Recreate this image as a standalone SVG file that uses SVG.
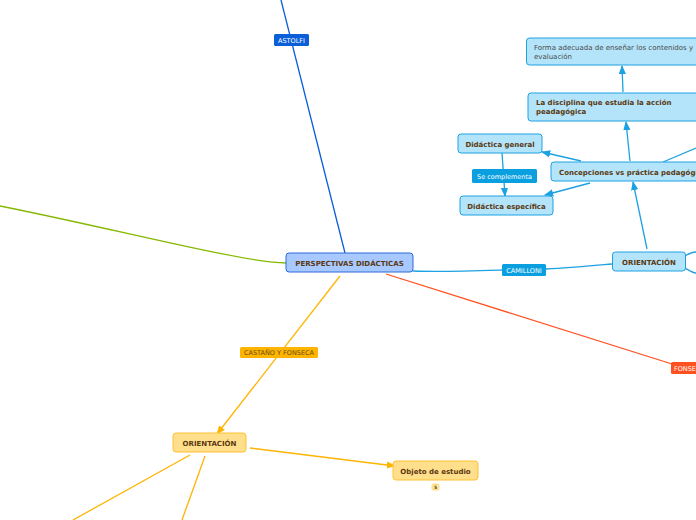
<svg xmlns="http://www.w3.org/2000/svg" width="696" height="520" viewBox="0 0 696 520">
<defs>
<style>
text{font-family:"DejaVu Sans",Verdana,sans-serif;font-size:7px}
.b{font-weight:bold;fill:#5a3810}
.n{fill:#4a4a4a}
.lbl{fill:#fff;font-size:6.5px}
.lbd{fill:#6a4a10;font-size:6.5px}
.blue{fill:#b4e4fa;stroke:#1ca2e2;stroke-width:1}
.orange{fill:#ffde8c;stroke:#ffc234;stroke-width:1}
</style>
<marker id="ab" viewBox="0 0 10 10" refX="9" refY="5" markerWidth="7" markerHeight="7" orient="auto"><path d="M0,1 L10,5 L0,9 z" fill="#1ca2e2"/></marker>
<marker id="ao" viewBox="0 0 10 10" refX="9" refY="5" markerWidth="7" markerHeight="7" orient="auto"><path d="M0,1 L10,5 L0,9 z" fill="#ffb400"/></marker>
</defs>
<rect width="696" height="520" fill="#fff"/>
<g id="connectors" fill="none">
<path d="M345,253 L281,0" stroke="#0a5fd8" stroke-width="1.3"/>
<path d="M0,206 C120,230 240,262 286,263" stroke="#86b800" stroke-width="1.3"/>
<path d="M413,271 C440,272 470,271 502,270 M546,269 C570,268 590,266 612,264" stroke="#1ca2e2" stroke-width="1.3"/>
<path d="M386,274 L672,364" stroke="#ff5020" stroke-width="1.3"/>
<path d="M340,276 L217,434" stroke="#ffb400" stroke-width="1.3" marker-end="url(#ao)"/>
<path d="M250,448 L395,466" stroke="#ffb400" stroke-width="1.3" marker-end="url(#ao)"/>
<path d="M190,455 L73,520" stroke="#ffb400" stroke-width="1.3"/>
<path d="M205,456 L182,520" stroke="#ffb400" stroke-width="1.3"/>
<path d="M685,256 C690,253 693,252 696,252 M685,268 C690,271 693,273 696,273" stroke="#1ca2e2" stroke-width="1.3"/>
<path d="M647,249 L633,182" stroke="#1ca2e2" stroke-width="1.3" marker-end="url(#ab)"/>
<path d="M663,162 L696,148" stroke="#1ca2e2" stroke-width="1.3"/>
<path d="M630,161 L626,122" stroke="#1ca2e2" stroke-width="1.3" marker-end="url(#ab)"/>
<path d="M581,161 L542,152" stroke="#1ca2e2" stroke-width="1.3" marker-end="url(#ab)"/>
<path d="M590,183 L545,195" stroke="#1ca2e2" stroke-width="1.3" marker-end="url(#ab)"/>
<path d="M623,92 L622,66" stroke="#1ca2e2" stroke-width="1.3" marker-end="url(#ab)"/>
<path d="M502,153 L505,196" stroke="#1ca2e2" stroke-width="1.3" marker-end="url(#ab)"/>
</g>
<g id="label-astolfi"><rect x="274" y="34" width="35" height="12" rx="1.5" fill="#0a5fd8"/><text x="291.5" y="42.5" text-anchor="middle" class="lbl">ASTOLFI</text></g>
<g id="label-camilloni"><rect x="502" y="264" width="44" height="12" rx="1.5" fill="#0aa0e0"/><text x="524" y="272.5" text-anchor="middle" class="lbl">CAMILLONI</text></g>
<g id="label-fonseca"><rect x="671" y="362" width="30" height="12" rx="1.5" fill="#ff5020"/><text x="674" y="370.5" class="lbl">FONSECA</text></g>
<g id="label-castano"><rect x="240" y="347" width="78" height="11" rx="1.5" fill="#ffb400"/><text x="279" y="355" text-anchor="middle" class="lbd">CASTAÑO Y FONSECA</text></g>
<g id="label-complementa"><rect x="472" y="169" width="65" height="14" rx="1.5" fill="#0aa0e0"/><text x="504.5" y="178.5" text-anchor="middle" class="lbl">Se complementa</text></g>
<g id="node-central"><rect x="286" y="253" width="127" height="19" rx="3" fill="#a8c9ff" stroke="#2a6ad8" stroke-width="1"/><text x="349.5" y="265.5" text-anchor="middle" class="b">PERSPECTIVAS DIDÁCTICAS</text></g>
<g id="node-orientacion-r"><rect x="612.5" y="252" width="73" height="19" rx="3" class="blue"/><text x="649" y="264.5" text-anchor="middle" class="b">ORIENTACIÓN</text></g>
<g id="node-concepciones"><rect x="551" y="162" width="160" height="19" rx="3" class="blue"/><text x="559" y="174.5" class="b">Concepciones vs práctica pedagógica</text></g>
<g id="node-general"><rect x="458" y="134" width="84" height="19" rx="3" class="blue"/><text x="500" y="146.5" text-anchor="middle" class="b">Didáctica general</text></g>
<g id="node-especifica"><rect x="460" y="196" width="93" height="19" rx="3" class="blue"/><text x="506.5" y="208.5" text-anchor="middle" class="b">Didáctica específica</text></g>
<g id="node-disciplina"><rect x="528" y="93" width="180" height="28" rx="3" class="blue"/><text x="536" y="105" class="b">La disciplina que estudia la acción</text><text x="536" y="114" class="b">peadagógica</text></g>
<g id="node-forma"><rect x="526.5" y="38" width="180" height="27" rx="3" class="blue"/><text x="534" y="49.5" class="n">Forma adecuada de enseñar los contenidos y</text><text x="534" y="58.5" class="n">evaluación</text></g>
<g id="node-orientacion-b"><rect x="173" y="433" width="73" height="19" rx="3" class="orange"/><text x="209.5" y="445.5" text-anchor="middle" class="b">ORIENTACIÓN</text></g>
<g id="node-objeto"><rect x="393" y="461" width="85" height="19" rx="3" class="orange"/><text x="435.5" y="473.5" text-anchor="middle" class="b">Objeto de estudio</text><rect x="432" y="484" width="7" height="6" rx="1.5" fill="#ffe9a8" stroke="#ffc234" stroke-width="0.6"/><text x="435.5" y="489" text-anchor="middle" style="font-size:4.5px" class="b">5</text></g>
</svg>
